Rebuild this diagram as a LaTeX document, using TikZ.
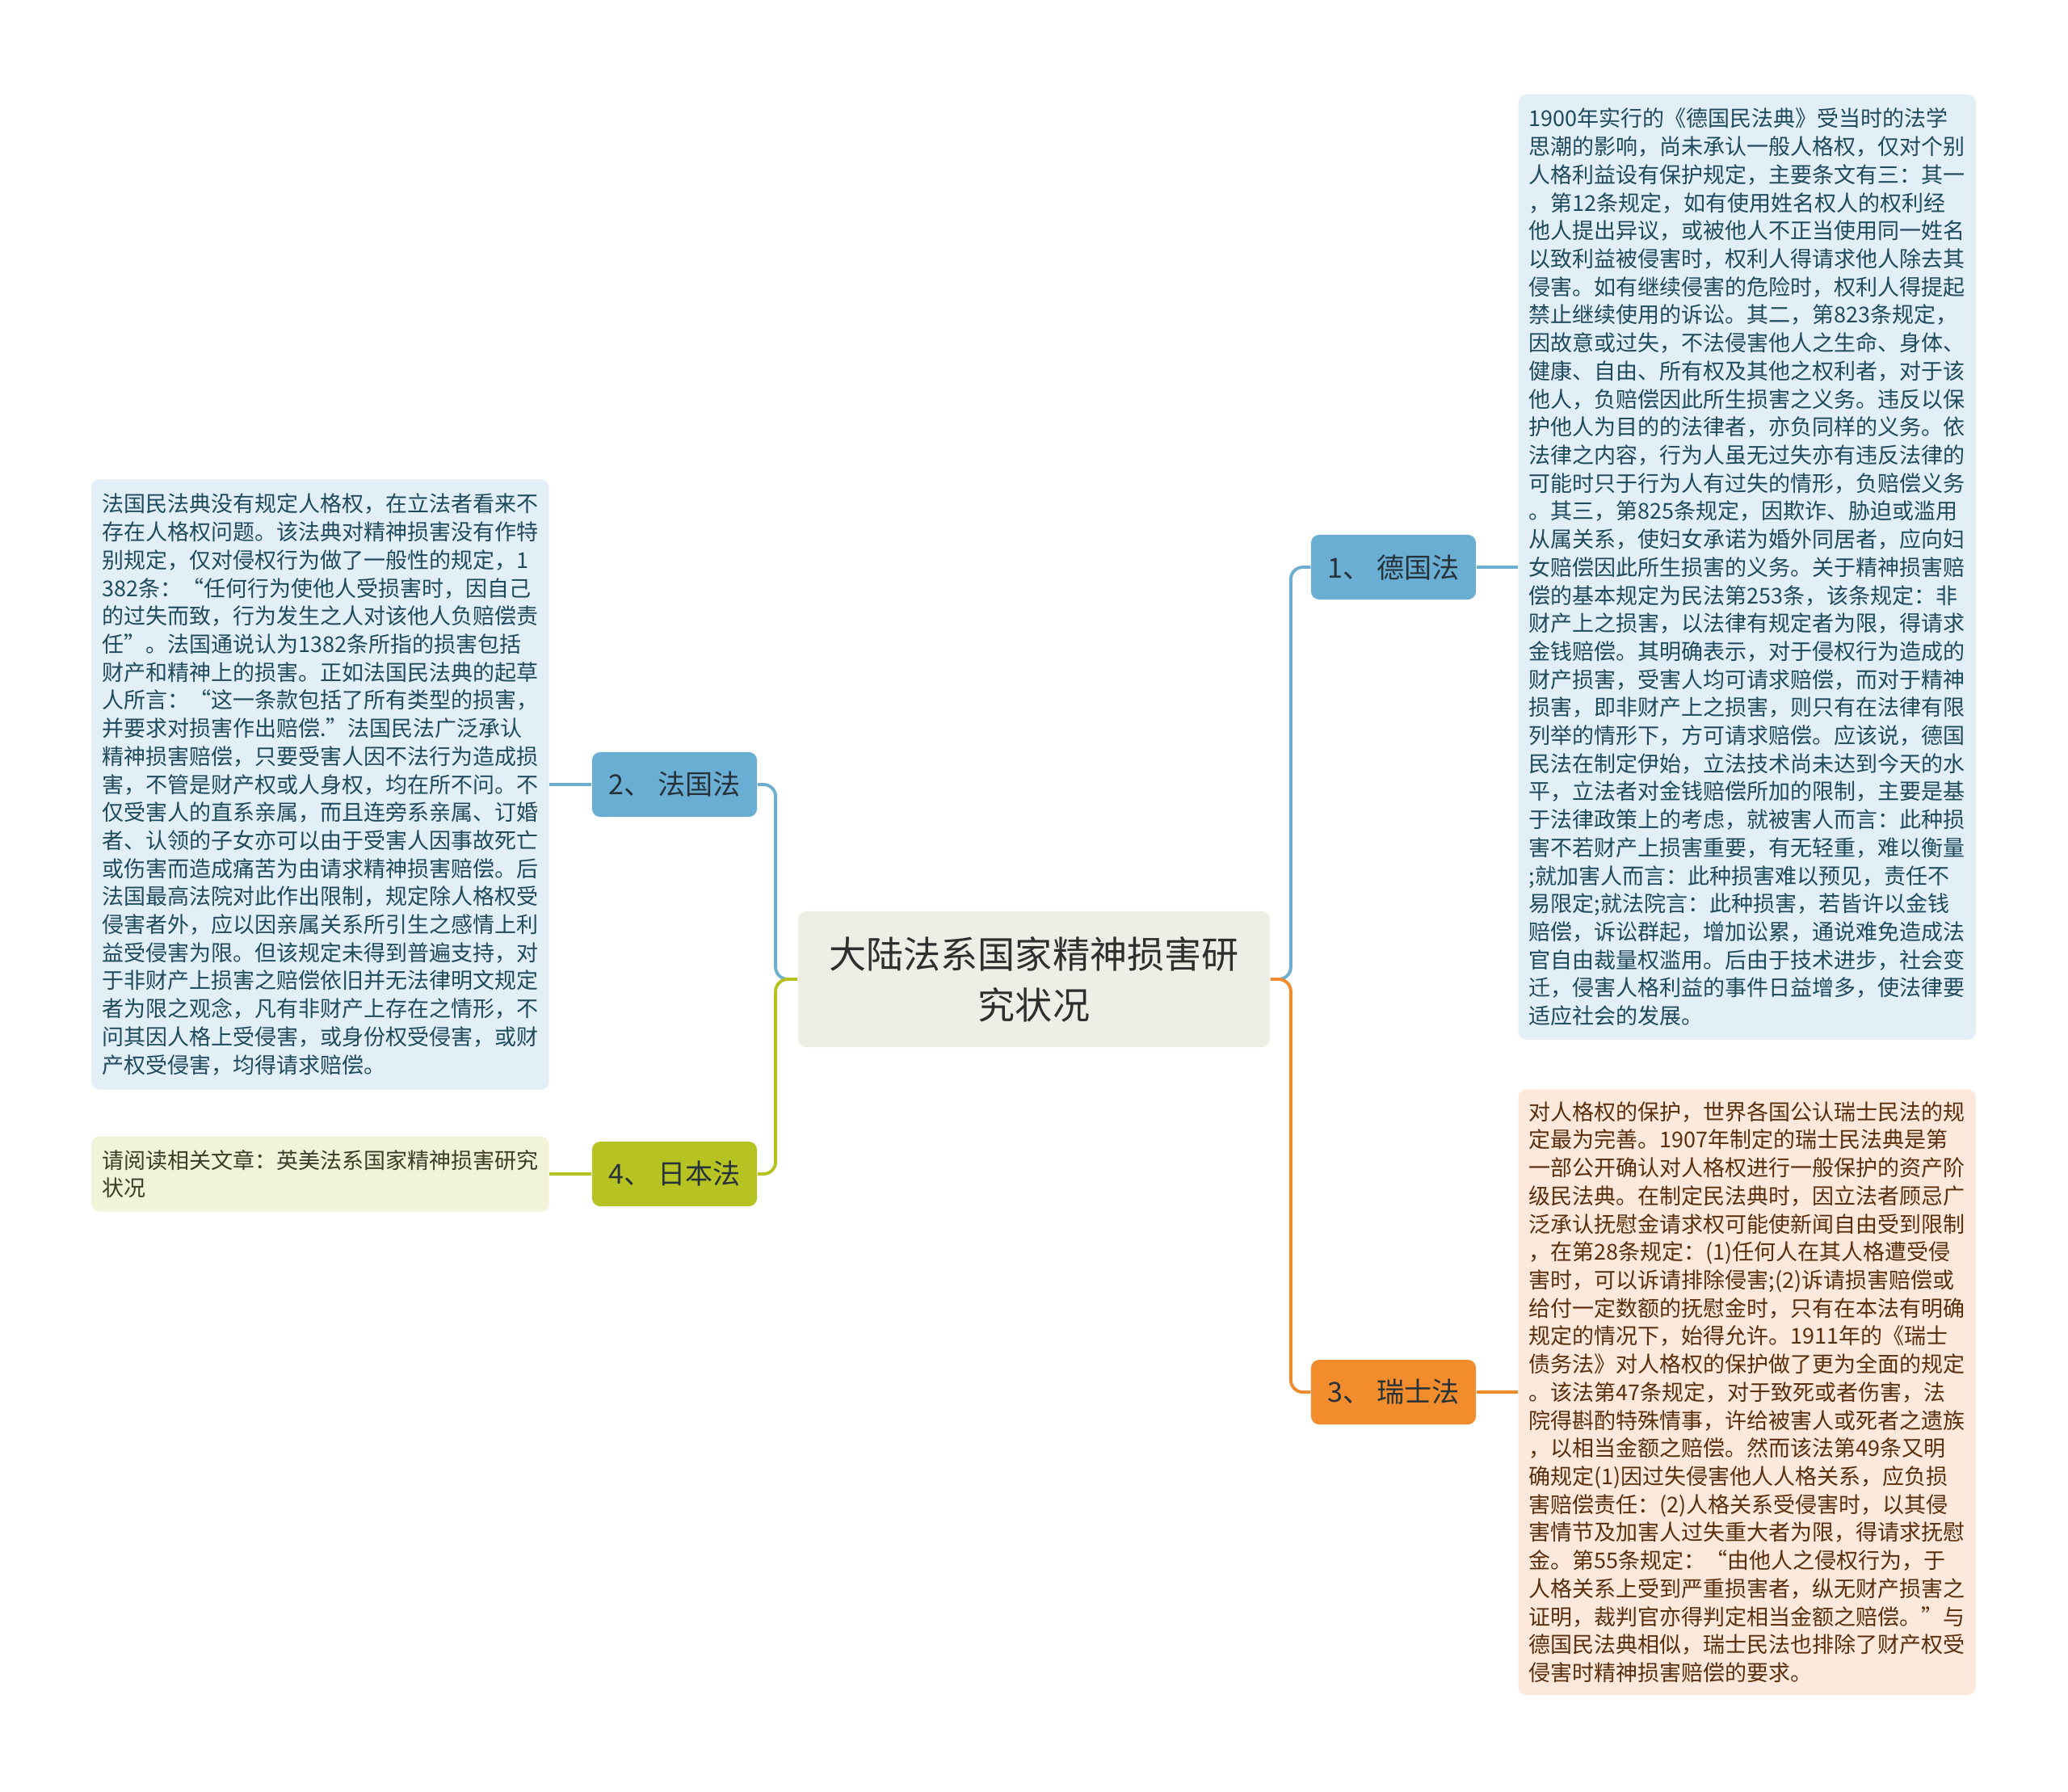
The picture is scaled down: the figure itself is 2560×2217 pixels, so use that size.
\documentclass[tikz,border=0pt]{standalone}
\usepackage{fontspec}
\setmainfont{Noto Sans CJK SC}
\usepackage{xcolor}
\usetikzlibrary{positioning}

\definecolor{mainfill}{HTML}{EEEDE6}
\definecolor{maintext}{HTML}{2E2E2E}
\definecolor{bluenode}{HTML}{6AAED3}
\definecolor{blueline}{HTML}{6CADD0}
\definecolor{bluebox}{HTML}{E2EFF7}
\definecolor{bluetext}{HTML}{1F4A5E}
\definecolor{orangenode}{HTML}{F28C2C}
\definecolor{orangeline}{HTML}{F08B2D}
\definecolor{orangebox}{HTML}{FDE9DB}
\definecolor{orangetext}{HTML}{5A2E0C}
\definecolor{greennode}{HTML}{B7C322}
\definecolor{greenline}{HTML}{B5C21E}
\definecolor{greenbox}{HTML}{F2F4D9}
\definecolor{greentext}{HTML}{3C3C28}
\definecolor{branchtext}{HTML}{26323A}

\begin{document}
\begin{tikzpicture}[x=0.01cm,y=-0.01cm]
    \tikzset{
        main node/.style={rectangle, rounded corners=0.1cm, fill=mainfill, text=maintext, minimum width=5.84cm, minimum height=1.68cm, inner sep=0pt, align=center, font=\fontsize{13.1pt}{17.9pt}\selectfont},
        branch node/.style={rectangle, rounded corners=0.1cm, minimum width=2.04cm, minimum height=0.8cm, inner sep=0pt, text=branchtext, font=\fontsize{9.7pt}{11pt}\selectfont},
        leaf node/.style={rectangle, rounded corners=0.1cm, text width=5.4cm, inner xsep=0.13cm, inner ysep=0pt, align=left, font=\fontsize{7.68pt}{9.87pt}\selectfont},
        blue link/.style={draw=blueline, line width=1.1pt, rounded corners=0.15cm},
        orange link/.style={draw=orangeline, line width=1.1pt, rounded corners=0.15cm},
        green link/.style={draw=greenline, line width=1.1pt, rounded corners=0.15cm}
      }
\useasboundingbox (0,0) rectangle (2560,2217);
\node[main node](main) at (1280,1212){大陆法系国家精神损害研\\究状况};
\node[branch node, fill=bluenode](n1) at (1725,702){1、\ 德国法};
\node[branch node, fill=bluenode](n2) at (835,971){2、\ 法国法};
\node[branch node, fill=orangenode](n3) at (1725,1723){3、\ 瑞士法};
\node[branch node, fill=greennode](n4) at (835,1453){4、\ 日本法};
\node[leaf node, fill=bluebox, text=bluetext, minimum height=11.69cm, right=0.51cm of n1](t1){1900年实行的《德国民法典》受当时的法学\\
    思潮的影响，尚未承认一般人格权，仅对个别\\
    人格利益设有保护规定，主要条文有三：其一\\
    ，第12条规定，如有使用姓名权人的权利经\\
    他人提出异议，或被他人不正当使用同一姓名\\
    以致利益被侵害时，权利人得请求他人除去其\\
    侵害。如有继续侵害的危险时，权利人得提起\\
    禁止继续使用的诉讼。其二，第823条规定，\\
    因故意或过失，不法侵害他人之生命、身体、\\
    健康、自由、所有权及其他之权利者，对于该\\
    他人，负赔偿因此所生损害之义务。违反以保\\
    护他人为目的的法律者，亦负同样的义务。依\\
    法律之内容，行为人虽无过失亦有违反法律的\\
    可能时只于行为人有过失的情形，负赔偿义务\\
    。其三，第825条规定，因欺诈、胁迫或滥用\\
    从属关系，使妇女承诺为婚外同居者，应向妇\\
    女赔偿因此所生损害的义务。关于精神损害赔\\
    偿的基本规定为民法第253条，该条规定：非\\
    财产上之损害，以法律有规定者为限，得请求\\
    金钱赔偿。其明确表示，对于侵权行为造成的\\
    财产损害，受害人均可请求赔偿，而对于精神\\
    损害，即非财产上之损害，则只有在法律有限\\
    列举的情形下，方可请求赔偿。应该说，德国\\
    民法在制定伊始，立法技术尚未达到今天的水\\
    平，立法者对金钱赔偿所加的限制，主要是基\\
    于法律政策上的考虑，就被害人而言：此种损\\
    害不若财产上损害重要，有无轻重，难以衡量\\
    ;就加害人而言：此种损害难以预见，责任不\\
    易限定;就法院言：此种损害，若皆许以金钱\\
    赔偿，诉讼群起，增加讼累，通说难免造成法\\
    官自由裁量权滥用。后由于技术进步，社会变\\
    迁，侵害人格利益的事件日益增多，使法律要\\
    适应社会的发展。};
\node[leaf node, fill=bluebox, text=bluetext, minimum height=7.55cm, left=0.52cm of n2](t2){法国民法典没有规定人格权，在立法者看来不\\
    存在人格权问题。该法典对精神损害没有作特\\
    别规定，仅对侵权行为做了一般性的规定，1\\
    382条：“任何行为使他人受损害时，因自己\\
    的过失而致，行为发生之人对该他人负赔偿责\\
    任”。法国通说认为1382条所指的损害包括\\
    财产和精神上的损害。正如法国民法典的起草\\
    人所言：“这一条款包括了所有类型的损害，\\
    并要求对损害作出赔偿.”法国民法广泛承认\\
    精神损害赔偿，只要受害人因不法行为造成损\\
    害，不管是财产权或人身权，均在所不问。不\\
    仅受害人的直系亲属，而且连旁系亲属、订婚\\
    者、认领的子女亦可以由于受害人因事故死亡\\
    或伤害而造成痛苦为由请求精神损害赔偿。后\\
    法国最高法院对此作出限制，规定除人格权受\\
    侵害者外，应以因亲属关系所引生之感情上利\\
    益受侵害为限。但该规定未得到普遍支持，对\\
    于非财产上损害之赔偿依旧并无法律明文规定\\
    者为限之观念，凡有非财产上存在之情形，不\\
    问其因人格上受侵害，或身份权受侵害，或财\\
    产权受侵害，均得请求赔偿。};
\node[leaf node, fill=orangebox, text=orangetext, minimum height=7.49cm, right=0.51cm of n3](t3){对人格权的保护，世界各国公认瑞士民法的规\\
    定最为完善。1907年制定的瑞士民法典是第\\
    一部公开确认对人格权进行一般保护的资产阶\\
    级民法典。在制定民法典时，因立法者顾忌广\\
    泛承认抚慰金请求权可能使新闻自由受到限制\\
    ，在第28条规定：(1)任何人在其人格遭受侵\\
    害时，可以诉请排除侵害;(2)诉请损害赔偿或\\
    给付一定数额的抚慰金时，只有在本法有明确\\
    规定的情况下，始得允许。1911年的《瑞士\\
    债务法》对人格权的保护做了更为全面的规定\\
    。该法第47条规定，对于致死或者伤害，法\\
    院得斟酌特殊情事，许给被害人或死者之遗族\\
    ，以相当金额之赔偿。然而该法第49条又明\\
    确规定(1)因过失侵害他人人格关系，应负损\\
    害赔偿责任：(2)人格关系受侵害时，以其侵\\
    害情节及加害人过失重大者为限，得请求抚慰\\
    金。第55条规定：“由他人之侵权行为，于\\
    人格关系上受到严重损害者，纵无财产损害之\\
    证明，裁判官亦得判定相当金额之赔偿。”与\\
    德国民法典相似，瑞士民法也排除了财产权受\\
    侵害时精神损害赔偿的要求。};
\node[leaf node, fill=greenbox, text=greentext, minimum height=0.93cm, left=0.52cm of n4](t4){请阅读相关文章：英美法系国家精神损害研究\\
    状况};
\draw[blue link] (main.east) -- ++(25,0) |- (n1.west);
\draw[orange link] (main.east) -- ++(25,0) |- (n3.west);
\draw[blue link] (main.west) -- ++(-27,0) |- (n2.east);
\draw[green link] (main.west) -- ++(-27,0) |- (n4.east);
\draw[blue link] (n1.east) -- (t1.west);
\draw[blue link] (n2.west) -- (t2.east);
\draw[orange link] (n3.east) -- (t3.west);
\draw[green link] (n4.west) -- (t4.east);
\end{tikzpicture}
\end{document}
